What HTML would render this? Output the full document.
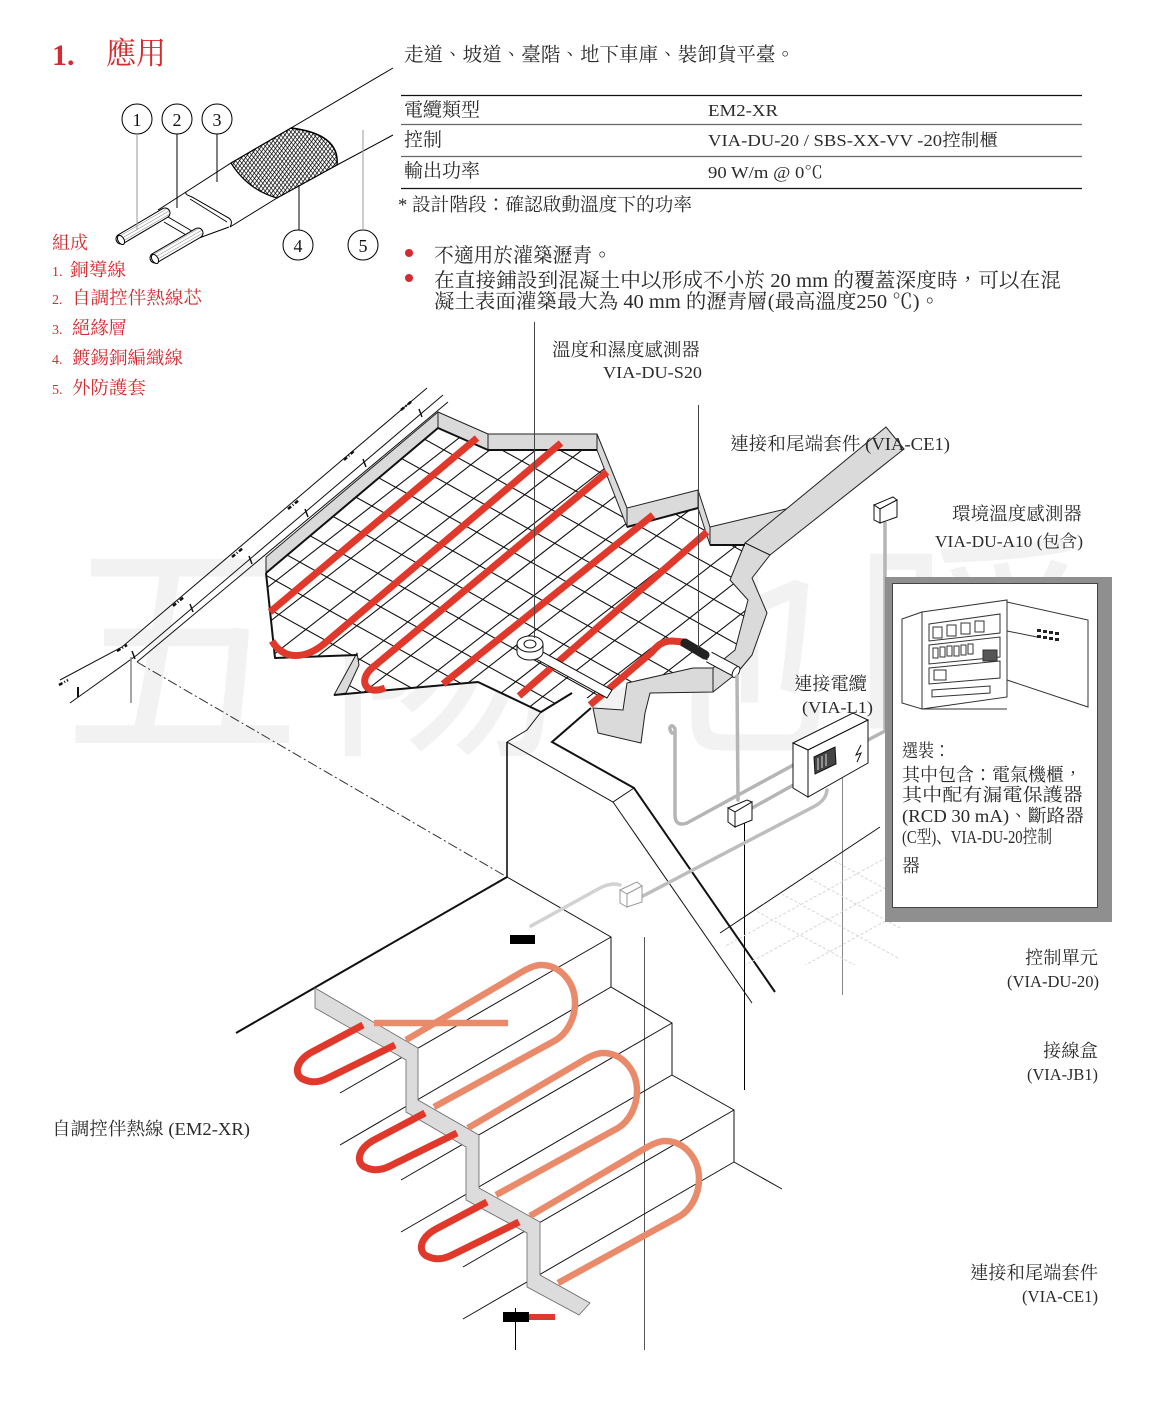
<!DOCTYPE html>
<html lang="zh-TW"><head><meta charset="utf-8">
<style>
html,body{margin:0;padding:0;background:#fff}
svg{display:block}
.t{font-family:"Liberation Serif","Noto Serif CJK SC",serif;fill:#2b2b2b}
.r{fill:#d42a30}
</style></head>
<body>
<svg width="1152" height="1408" viewBox="0 0 1152 1408" xmlns="http://www.w3.org/2000/svg" lang="zh-TW" xml:lang="zh-TW">
<defs>
<pattern id="h1" width="3.2" height="3.2" patternUnits="userSpaceOnUse" patternTransform="rotate(35)"><line x1="0" y1="0" x2="0" y2="3.2" stroke="#000" stroke-width="1.5"/></pattern>
<pattern id="h2" width="3.2" height="3.2" patternUnits="userSpaceOnUse" patternTransform="rotate(-40)"><line x1="0" y1="0" x2="0" y2="3.2" stroke="#000" stroke-width="1.3"/></pattern>
<pattern id="h3" width="3" height="3" patternUnits="userSpaceOnUse" patternTransform="rotate(60)"><line x1="0" y1="0" x2="0" y2="3" stroke="#333" stroke-width="0.6"/></pattern>
<clipPath id="mc"><polygon points="437,428 487,450 597,450 627,527 698,508 710,545 745,545 730,580 748,600 735,650 713,668 693,668 627,683 593,700 572,693 541,712 478,682 334,695 357,655 275,658 266,573"/></clipPath>
<clipPath id="fc"><polygon points="724,934 880,828 900,828 900,965 724,965"/></clipPath>
</defs>
<rect width="1152" height="1408" fill="#fff"/>

<!-- watermark -->
<text x="62" y="737" font-size="240" fill="#f2f2f2" font-family="'Noto Sans CJK SC',sans-serif" textLength="1030" lengthAdjust="spacing">五陽地暖</text>

<!-- ===== Title & list ===== -->
<text class="t r" x="52" y="65" font-size="30" font-weight="bold">1.</text>
<text class="t r" x="106" y="64" font-size="31" textLength="60" lengthAdjust="spacingAndGlyphs">應用</text>

<text class="t r" x="52" y="249" font-size="18" textLength="36" lengthAdjust="spacingAndGlyphs">組成</text>
<text class="t r" x="52" y="276" font-size="14">1.</text><text class="t r" x="70" y="276" font-size="18" textLength="56" lengthAdjust="spacingAndGlyphs">銅導線</text>
<text class="t r" x="52" y="304" font-size="14">2.</text><text class="t r" x="72" y="304" font-size="18" textLength="130" lengthAdjust="spacingAndGlyphs">自調控伴熱線芯</text>
<text class="t r" x="52" y="334" font-size="14">3.</text><text class="t r" x="72" y="334" font-size="18" textLength="55" lengthAdjust="spacingAndGlyphs">絕緣層</text>
<text class="t r" x="52" y="364" font-size="14">4.</text><text class="t r" x="72" y="364" font-size="18" textLength="111" lengthAdjust="spacingAndGlyphs">鍍錫銅編織線</text>
<text class="t r" x="52" y="394" font-size="14">5.</text><text class="t r" x="72" y="394" font-size="18" textLength="74" lengthAdjust="spacingAndGlyphs">外防護套</text>

<!-- ===== Cable illustration ===== -->
<g fill="none" stroke="#000" stroke-width="1">
  <line x1="291" y1="128" x2="393" y2="68"/>
  <line x1="337" y1="165" x2="393" y2="135"/>
</g>
<!-- insulation body -->
<path d="M186,192 L231,163 L277,198 L230,227 C233,222 231,219 227,217 L192,197 C187,195 185,194 186,192 Z" fill="#fff" stroke="#000" stroke-width="1"/>
<path d="M190,199 L227,222" fill="none" stroke="#000" stroke-width="0.8"/>
<!-- braid -->
<path d="M231,163 L291,128 Q340,134 337,165 L277,198 Q248,190 231,163 Z" fill="#fff" stroke="#000" stroke-width="1.2"/>
<path d="M231,163 L291,128 Q340,134 337,165 L277,198 Q248,190 231,163 Z" fill="url(#h1)" stroke="none"/>
<path d="M231,163 L291,128 Q340,134 337,165 L277,198 Q248,190 231,163 Z" fill="url(#h2)" stroke="none"/>
<path d="M291,128 Q340,134 337,165" fill="none" stroke="#000" stroke-width="1.4"/>
<!-- core -->
<g fill="none" stroke="#000" stroke-width="1">
  <path d="M158,210 L186,192"/>
  <path d="M163,214 L197,234"/>
  <path d="M164,222 L193,239"/>
  <path d="M199,238 L229,227"/>
</g>
<!-- conductors -->
<g stroke-linecap="round">
  <line x1="121" y1="239" x2="165" y2="213" stroke="#000" stroke-width="11"/>
  <line x1="121" y1="239" x2="165" y2="213" stroke="#fff" stroke-width="9"/>
  <line x1="121" y1="239" x2="165" y2="213" stroke="url(#h3)" stroke-width="9"/>
  <line x1="155" y1="258" x2="198" y2="233" stroke="#000" stroke-width="11"/>
  <line x1="155" y1="258" x2="198" y2="233" stroke="#fff" stroke-width="9"/>
  <line x1="155" y1="258" x2="198" y2="233" stroke="url(#h3)" stroke-width="9"/>
</g>
<ellipse cx="121" cy="240" rx="3" ry="5" transform="rotate(-30 121 240)" fill="#fff" stroke="#000"/>
<ellipse cx="155" cy="259" rx="3" ry="5" transform="rotate(-30 155 259)" fill="#fff" stroke="#000"/>
<!-- number circles -->
<g fill="#fff" stroke="#000" stroke-width="1">
  <circle cx="137" cy="119" r="15"/><circle cx="177" cy="119" r="15"/><circle cx="217" cy="119" r="15"/>
  <circle cx="298" cy="245" r="15"/><circle cx="363" cy="245" r="15"/>
</g>
<g class="t" font-size="18" text-anchor="middle" style="fill:#111">
  <text x="137" y="126">1</text><text x="177" y="126">2</text><text x="217" y="126">3</text>
  <text x="298" y="252">4</text><text x="363" y="252">5</text>
</g>
<g stroke-width="1">
  <line x1="137" y1="134" x2="137" y2="230" stroke="#999"/>
  <line x1="177" y1="134" x2="177" y2="208" stroke="#000"/>
  <line x1="217" y1="134" x2="217" y2="182" stroke="#000"/>
  <line x1="299" y1="230" x2="299" y2="185" stroke="#000"/>
  <line x1="363" y1="230" x2="363" y2="130" stroke="#999"/>
</g>

<!-- ===== Header texts & table ===== -->
<text class="t" x="404" y="61" font-size="19.5" textLength="391" lengthAdjust="spacingAndGlyphs">走道、坡道、臺階、地下車庫、裝卸貨平臺。</text>
<line x1="401" y1="95.5" x2="1082" y2="95.5" stroke="#111" stroke-width="1.2"/>
<line x1="401" y1="124.5" x2="1082" y2="124.5" stroke="#666" stroke-width="1.2"/>
<line x1="401" y1="156.5" x2="1082" y2="156.5" stroke="#666" stroke-width="1.2"/>
<line x1="401" y1="188.5" x2="1082" y2="188.5" stroke="#111" stroke-width="1.2"/>
<text class="t" x="404" y="116" font-size="19" textLength="76" lengthAdjust="spacingAndGlyphs">電纜類型</text>
<text class="t" x="708" y="116" font-size="17" textLength="70" lengthAdjust="spacingAndGlyphs">EM2-XR</text>
<text class="t" x="404" y="146" font-size="19" textLength="38" lengthAdjust="spacingAndGlyphs">控制</text>
<text class="t" x="708" y="146" font-size="17" textLength="290" lengthAdjust="spacingAndGlyphs">VIA-DU-20 / SBS-XX-VV -20控制櫃</text>
<text class="t" x="404" y="177" font-size="19" textLength="76" lengthAdjust="spacingAndGlyphs">輸出功率</text>
<text class="t" x="708" y="178" font-size="17" textLength="115" lengthAdjust="spacingAndGlyphs">90 W/m @ 0℃</text>
<text class="t" x="398" y="211" font-size="18.5" textLength="294" lengthAdjust="spacingAndGlyphs">* 設計階段：確認啟動溫度下的功率</text>

<circle cx="409" cy="253" r="4" fill="#d42a30"/>
<circle cx="409" cy="278" r="4" fill="#d42a30"/>
<text class="t" x="434" y="262" font-size="20" textLength="178" lengthAdjust="spacingAndGlyphs">不適用於灌築瀝青。</text>
<text class="t" x="434" y="287" font-size="20" textLength="627" lengthAdjust="spacingAndGlyphs">在直接鋪設到混凝土中以形成不小於 20 mm 的覆蓋深度時，可以在混</text>
<text class="t" x="434" y="308" font-size="20" textLength="506" lengthAdjust="spacingAndGlyphs">凝土表面灌築最大為 40 mm 的瀝青層(最高溫度250 ℃)。</text>

<!-- ===== Left ramp ===== -->
<g fill="none" stroke="#111" stroke-width="1">
  <polyline points="60,680 122,647 427,388"/>
  <polyline points="70,703 137,655 443,395"/>
  <line x1="137" y1="662" x2="448" y2="402"/>
  <line x1="131" y1="657" x2="131" y2="703" stroke="#888" stroke-width="1.5"/>
  <line x1="78" y1="687" x2="78" y2="697" stroke-width="2"/>
</g>
<g stroke="#111" stroke-width="2.5" stroke-dasharray="4 2 1 2">
  <line x1="401" y1="410" x2="412" y2="401"/>
  <line x1="344" y1="460" x2="355" y2="450"/>
  <line x1="288" y1="509" x2="299" y2="500"/>
  <line x1="232" y1="557" x2="243" y2="548"/>
  <line x1="173" y1="606" x2="184" y2="597"/>
  <line x1="117" y1="651" x2="127" y2="645"/>
  <line x1="59" y1="685" x2="68" y2="680"/>
</g>
<g stroke="#111" stroke-width="1.5">
  <line x1="419" y1="409" x2="422" y2="417"/>
  <line x1="363" y1="459" x2="366" y2="467"/>
  <line x1="305" y1="509" x2="308" y2="517"/>
  <line x1="249" y1="556" x2="252" y2="564"/>
  <line x1="190" y1="604" x2="193" y2="612"/>
  <line x1="132" y1="651" x2="135" y2="659"/>
</g>
<line x1="137" y1="662" x2="507" y2="877" stroke="#333" stroke-width="1" stroke-dasharray="10 3 2 3"/>

<!-- ===== Slab mesh ===== -->
<g clip-path="url(#mc)">
  <rect x="250" y="400" width="550" height="320" fill="#fff"/>
  <path fill="none" stroke="#111" stroke-width="1.1" d="
M250,118.5L800,423.2 M250,150.5L800,455.2 M250,182.5L800,487.2 M250,214.5L800,519.2 M250,246.5L800,551.2
M250,278.5L800,583.2 M250,310.5L800,615.2 M250,342.5L800,647.2 M250,374.5L800,679.2 M250,406.5L800,711.2
M250,438.5L800,743.2 M250,470.5L800,775.2 M250,502.5L800,807.2 M250,534.5L800,839.2 M250,566.5L800,871.2
M250,598.5L800,903.2 M250,630.5L800,935.2 M250,662.5L800,967.2 M250,694.5L800,999.2
M250,565L800,136 M250,601L800,172 M250,637L800,208 M250,673L800,244 M250,709L800,280
M250,745L800,316 M250,781L800,352 M250,817L800,388 M250,853L800,424 M250,889L800,460
M250,925L800,496 M250,961L800,532 M250,997L800,568 M250,1033L800,604 M250,1069L800,640"/>
</g>

<!-- grey slab edges -->
<g fill="#dadada" stroke="#222" stroke-width="1" stroke-linejoin="round">
  <polygon points="266,557 438,412 438,428 266,573"/>
  <polygon points="438,412 488,434 488,450 438,428"/>
  <polygon points="488,434 597,434 597,450 488,450"/>
  <polygon points="597,434 627,508 627,527 597,450"/>
  <polygon points="627,508 698,490 698,508 627,527"/>
  <polygon points="698,490 710,527 710,545 698,508"/>
  <polygon points="710,527 790,508 745,545 710,545"/>
  <polygon points="886,427 904,449 770,555 745,543"/>
  <polygon points="745,543 770,555 752,578 767,613 752,655 737,673 713,692 713,668 735,650 748,600 730,580"/>
  <polygon points="693,668 713,668 713,692 650,693 645,713 641,743 598,733 593,708 623,710 627,683"/>
  <polygon points="357,653 359,665 346,693 334,695"/>
</g>
<g fill="none" stroke="#111" stroke-width="2" stroke-linejoin="round">
  <polyline points="266,573 438,428 488,450 597,450"/>
  <polyline points="266,573 275,658 357,655"/>
  <polyline points="334,695 478,682 541,712 572,693"/>
  <polyline points="627,527 698,508"/>
  <polyline points="710,545 745,545"/>
</g>

<!-- red cables on slab -->
<g fill="none" stroke="#e0392b" stroke-width="7">
  <path d="M477,438 L270,612"/>
  <path d="M272,641 C283,660 305,660 325,643 L561,443"/>
  <path d="M607,472 L372,668 C358,680 365,696 385,688"/>
  <path d="M653,515 L443,684"/>
  <path d="M707,532 L519,696"/>
  <path d="M684,642 L672,641 C662,641 657,646 652,652 L590,705"/>
</g>

<!-- sensor puck & tube -->
<g stroke="#111" stroke-width="1" fill="#fff">
  <path d="M541,651 L612,690 L607,698 L536,659 Z"/>
  <path d="M517,644 L517,652 A13,8 0 0 0 543,652 L543,644 Z"/>
  <ellipse cx="530" cy="644" rx="13" ry="8"/>
  <ellipse cx="530" cy="644" rx="6" ry="4"/>
</g>
<!-- CE1 connector -->
<line x1="685" y1="643" x2="705" y2="655" stroke="#222" stroke-width="9" stroke-linecap="round"/>
<line x1="709" y1="657" x2="735" y2="671" stroke="#111" stroke-width="12"/>
<line x1="709" y1="657" x2="735" y2="671" stroke="#fff" stroke-width="10"/>
<ellipse cx="736" cy="672" rx="3" ry="6" transform="rotate(30 736 672)" fill="#fff" stroke="#111"/>

<!-- leader lines -->
<g stroke="#444" stroke-width="1">
  <line x1="534.5" y1="322" x2="534.5" y2="638"/>
  <line x1="698.5" y1="405" x2="698.5" y2="648"/>
  <line x1="744.5" y1="815" x2="744.5" y2="1090" stroke="#000"/>
  <line x1="842.5" y1="762" x2="842.5" y2="995" stroke="#888"/>
  <line x1="644.5" y1="937" x2="644.5" y2="1350" stroke="#555"/>
  <line x1="515.5" y1="1308" x2="515.5" y2="1350" stroke="#000"/>
</g>

<!-- ===== wall & stairs ===== -->
<g fill="none" stroke="#111" stroke-width="1">
  <line x1="507" y1="742" x2="507" y2="877" stroke-width="1.6"/>
  <polyline points="507,742 527,730 541,712 572,693"/>
  <polyline points="507,742 613,802 634,788"/>
  <line x1="613" y1="802" x2="752" y2="1003"/>
  <polyline points="591,708 552,742 634,788 775,992" stroke-width="2"/>
  <line x1="720" y1="933" x2="880" y2="827"/>
  <line x1="236" y1="1033" x2="507" y2="877" stroke-width="2"/>
  <polyline points="507,877 611,937 611,987 672,1023 672,1075 734,1110 734,1162 782,1189"/>
  <line x1="340" y1="1093" x2="611" y2="937"/>
  <line x1="340" y1="1145" x2="611" y2="987"/>
  <line x1="401" y1="1180" x2="672" y2="1023"/>
  <line x1="401" y1="1232" x2="672" y2="1075"/>
  <line x1="463" y1="1267" x2="734" y2="1110"/>
  <line x1="463" y1="1319" x2="734" y2="1162"/>
</g>
<!-- faint floor tiles -->
<g clip-path="url(#fc)" stroke="#d6d6d6" stroke-width="1" stroke-dasharray="3 2" fill="none">
  <path d="M700,880L900,990 M720,860L900,959 M740,840L900,928 M760,820L900,897 M700,960L900,850 M700,990L900,880 M760,990L900,913"/>
</g>
<polygon points="315,988 418,1048 418,1100 479,1135 479,1188 540,1222 540,1275 590,1303 579,1315 527,1287 527,1233 466,1200 466,1147 406,1112 406,1060 315,1008" fill="#dcdcdc" stroke="#666" stroke-width="0.8"/>

<!-- salmon loops -->
<g fill="none" stroke="#e98a6b" stroke-width="6.5">
  <line x1="374" y1="1023" x2="508" y2="1023"/>
  <path d="M406,1040 L520,973 C530,967 536,965 541,965 C560,965 575,982 575,1003 C575,1020 566,1034 556,1040 L434,1107"/>
  <path transform="translate(62,88)" d="M406,1040 L520,973 C530,967 536,965 541,965 C560,965 575,982 575,1003 C575,1020 566,1034 556,1040 L434,1107"/>
  <path transform="translate(124,176)" d="M406,1040 L520,973 C530,967 536,965 541,965 C560,965 575,982 575,1003 C575,1020 566,1034 556,1040 L434,1107"/>
</g>
<!-- red U -->
<g fill="none" stroke="#e0392b" stroke-width="7">
  <path d="M363,1025 L312,1052 C295,1061 293,1076 305,1080 C312,1083 320,1082 328,1078 L395,1045"/>
  <path transform="translate(62,88)" d="M363,1025 L312,1052 C295,1061 293,1076 305,1080 C312,1083 320,1082 328,1078 L395,1045"/>
  <path transform="translate(124,177)" d="M363,1025 L312,1052 C295,1061 293,1076 305,1080 C312,1083 320,1082 328,1078 L395,1045"/>
</g>
<rect x="510" y="935" width="25" height="9" fill="#000"/>
<rect x="503" y="1312" width="26" height="10" fill="#000"/>
<line x1="529" y1="1317" x2="555" y2="1317" stroke="#e0392b" stroke-width="6"/>

<!-- ===== conduits ===== -->
<g fill="none" stroke-linecap="round" stroke-linejoin="round" stroke-width="3.5">
  <path d="M737,676 L738,800" stroke="#b5b5b5"/>
  <path d="M672,733 C667,728 672,722 675,729 L675,815 Q675,827 687,823 L797,763" stroke="#b5b5b5"/>
  <path d="M752,808 L797,783" stroke="#b5b5b5"/>
  <path d="M827,790 Q826,800 815,806 L643,896" stroke="#bdbdbd"/>
  <path d="M620,885 Q612,882 600,888 L531,926" stroke="#d2d2d2"/>
  <path d="M868,740 L885,731 L885,523" stroke="#b5b5b5"/>
</g>
<!-- junction boxes -->
<g fill="#fff" stroke="#111" stroke-width="1">
  <polygon points="728,808 747,800 752,802 735,812"/>
  <polygon points="728,808 735,812 735,827 728,822"/>
  <polygon points="735,812 752,802 752,820 735,827"/>
  <polygon points="874,505 893,497 897,500 880,509"/>
  <polygon points="874,505 880,509 880,523 874,520"/>
  <polygon points="880,509 897,500 897,517 880,523"/>
</g>
<g fill="#fff" stroke="#9a9a9a" stroke-width="1">
  <polygon points="620,890 637,882 642,886 627,894"/>
  <polygon points="620,890 627,894 627,907 620,903"/>
  <polygon points="627,894 642,886 642,902 627,907"/>
</g>
<!-- control box VIA-L1 -->
<g fill="#fff" stroke="#111" stroke-width="1">
  <polygon points="793,743 853,713 868,720 808,750"/>
  <polygon points="808,750 868,720 868,763 808,797"/>
  <polygon points="793,743 808,750 808,797 793,788"/>
  <polygon points="814,757 835,747 836,764 815,774" fill="#444"/>
  <path d="M818,758 L818,770 M822,756 L822,768 M826,754 L826,766" stroke="#ddd"/>
  <path d="M861,745 L856,755 L861,753 L857,762" fill="none"/>
</g>

<!-- ===== cabinet panel ===== -->
<rect x="885" y="577" width="227" height="345" fill="#8f8f8f"/>
<rect x="892.5" y="583.5" width="205" height="324" fill="#fff" stroke="#444" stroke-width="1"/>
<g fill="#fff" stroke="#333" stroke-width="1">
  <polygon points="902,619 922,612 922,709 902,703"/>
  <polygon points="922,612 1007,600 1007,697 922,709"/>
  <polygon points="1007,602 1088,620 1088,707 1007,680"/>
  <line x1="922" y1="709" x2="1007" y2="709"/>
  <polygon points="929,624 1000,614 1000,633 929,641"/>
  <polygon points="929,645 1000,637 1000,657 929,664"/>
  <polygon points="929,668 1000,661 1000,678 929,684"/>
  <polygon points="932,690 990,686 990,693 932,697"/>
  <rect x="933" y="627" width="9" height="11"/><rect x="947" y="625" width="9" height="11"/><rect x="961" y="623" width="9" height="11"/><rect x="975" y="621" width="9" height="11"/>
  <rect x="933" y="648" width="5" height="10"/><rect x="940" y="647" width="5" height="10"/><rect x="947" y="646" width="5" height="10"/><rect x="954" y="646" width="5" height="10"/><rect x="961" y="645" width="5" height="10"/><rect x="968" y="644" width="5" height="10"/>
  <rect x="934" y="670" width="12" height="10"/>
  <rect x="983" y="650" width="14" height="11" fill="#555"/>
  <line x1="1007" y1="631" x2="1037" y2="637"/>
</g>
<g fill="#222">
  <rect x="1037" y="629" width="4" height="3"/><rect x="1043" y="630" width="4" height="3"/><rect x="1049" y="631" width="4" height="3"/><rect x="1055" y="632" width="4" height="3"/>
  <rect x="1037" y="635" width="4" height="3"/><rect x="1043" y="636" width="4" height="3"/><rect x="1049" y="637" width="4" height="3"/><rect x="1055" y="638" width="4" height="3"/>
</g>
<text class="t" x="902" y="757" font-size="18" textLength="48" lengthAdjust="spacingAndGlyphs">選裝：</text>
<text class="t" x="902" y="781" font-size="18" textLength="180" lengthAdjust="spacingAndGlyphs">其中包含：電氣機櫃，</text>
<text class="t" x="902" y="801" font-size="18" textLength="181" lengthAdjust="spacingAndGlyphs">其中配有漏電保護器</text>
<text class="t" x="902" y="822" font-size="18" textLength="182" lengthAdjust="spacingAndGlyphs">(RCD 30 mA)、斷路器</text>
<text class="t" x="902" y="843" font-size="18" textLength="150" lengthAdjust="spacingAndGlyphs">(C型)、VIA-DU-20控制</text>
<text class="t" x="902" y="872" font-size="18">器</text>

<!-- ===== labels ===== -->
<text class="t" x="552" y="356" font-size="18" textLength="148" lengthAdjust="spacingAndGlyphs">溫度和濕度感測器</text>
<text class="t" x="603" y="378" font-size="17" textLength="99" lengthAdjust="spacingAndGlyphs">VIA-DU-S20</text>
<text class="t" x="730" y="450" font-size="18" textLength="220" lengthAdjust="spacingAndGlyphs">連接和尾端套件 (VIA-CE1)</text>
<text class="t" x="952" y="520" font-size="18" textLength="130" lengthAdjust="spacingAndGlyphs">環境溫度感測器</text>
<text class="t" x="935" y="547" font-size="17" textLength="148" lengthAdjust="spacingAndGlyphs">VIA-DU-A10 (包含)</text>
<text class="t" x="794" y="690" font-size="18" textLength="73" lengthAdjust="spacingAndGlyphs">連接電纜</text>
<text class="t" x="802" y="713" font-size="17" textLength="71" lengthAdjust="spacingAndGlyphs">(VIA-L1)</text>
<text class="t" x="1025" y="964" font-size="18" textLength="73" lengthAdjust="spacingAndGlyphs">控制單元</text>
<text class="t" x="1007" y="987" font-size="17" textLength="92" lengthAdjust="spacingAndGlyphs">(VIA-DU-20)</text>
<text class="t" x="1043" y="1057" font-size="18" textLength="55" lengthAdjust="spacingAndGlyphs">接線盒</text>
<text class="t" x="1027" y="1080" font-size="17" textLength="71" lengthAdjust="spacingAndGlyphs">(VIA-JB1)</text>
<text class="t" x="970" y="1279" font-size="18" textLength="128" lengthAdjust="spacingAndGlyphs">連接和尾端套件</text>
<text class="t" x="1022" y="1302" font-size="17" textLength="76" lengthAdjust="spacingAndGlyphs">(VIA-CE1)</text>
<text class="t" x="52" y="1135" font-size="18" textLength="198" lengthAdjust="spacingAndGlyphs">自調控伴熱線 (EM2-XR)</text>
</svg>
</body></html>
